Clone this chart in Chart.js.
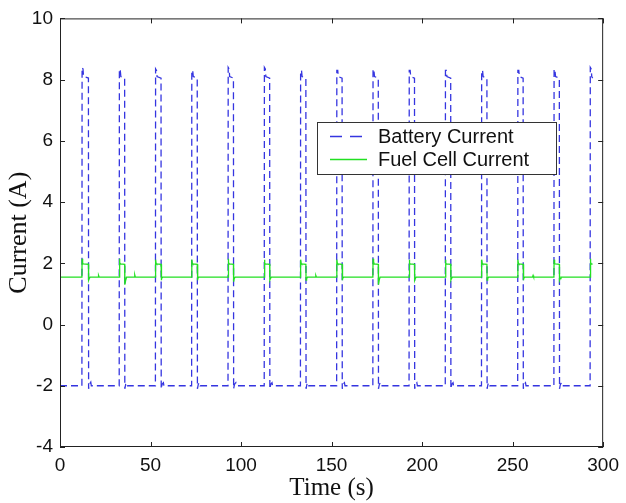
<!DOCTYPE html>
<html>
<head>
<meta charset="utf-8">
<title>Battery / Fuel Cell Current</title>
<script src="https://cdn.jsdelivr.net/npm/chart.js@4.4.1/dist/chart.umd.min.js"></script>
<style>
	html, body { margin: 0; padding: 0; background: #fff; }
	#canCurrent { display: block; }
</style>
</head>
<body>
<canvas id="canCurrent" width="626" height="503"></canvas>
<script>
'use strict'

//----------------------------------------------------------------------------------------------
// data : one line per load pulse (20 s period)

// Battery current [A]
const batteryTime = [
	0,
	12.1, 12.2, 12.7, 13.0, 15.7, 15.8, 16.3, 17.0, 17.3,
	32.7, 32.8, 33.3, 33.6, 35.7, 35.8, 36.3, 37.0, 37.3,
	52.7, 52.8, 53.3, 53.6, 55.8, 55.9, 56.4, 57.1, 57.4,
	72.7, 72.8, 73.3, 73.6, 75.8, 75.9, 76.4, 77.1, 77.4,
	92.8, 92.9, 93.4, 93.7, 95.8, 95.9, 96.4, 97.1, 97.4,
	112.8, 112.9, 113.4, 113.7, 115.8, 115.9, 116.4, 117.1, 117.4,
	132.8, 132.9, 133.4, 133.7, 135.8, 135.9, 136.4, 137.1, 137.4,
	152.8, 152.9, 153.4, 153.7, 155.8, 155.9, 156.4, 157.1, 157.4,
	172.8, 172.9, 173.4, 173.7, 175.8, 175.9, 176.4, 177.1, 177.4,
	192.8, 192.9, 193.4, 193.7, 195.8, 195.9, 196.4, 197.1, 197.4,
	212.8, 212.9, 213.4, 213.7, 215.8, 215.9, 216.4, 217.1, 217.4,
	232.8, 232.9, 233.4, 233.7, 235.8, 235.9, 236.4, 237.1, 237.4,
	252.8, 252.9, 253.4, 253.7, 255.8, 255.9, 256.4, 257.1, 257.4,
	272.8, 272.9, 273.4, 273.7, 275.8, 275.9, 276.4, 277.1, 277.4,
	292.8, 292.9, 293.4, 293.7, 294.2
];
const batteryCurrent = [
	-2.0,
	-2.0, 8.4, 8.35, 8.1, 8.05, -2.1, -1.95, -1.88, -2.0,
	-2.0, 8.35, 8.3, 8.1, 8.05, -2.1, -1.95, -1.9, -2.0,
	-2.0, 8.35, 8.3, 8.1, 8.05, -2.1, -1.95, -1.9, -2.0,
	-2.0, 8.3, 8.3, 8.1, 8.05, -2.1, -1.95, -1.9, -2.0,
	-2.0, 8.4, 8.35, 8.1, 8.05, -2.1, -1.95, -1.9, -2.0,
	-2.0, 8.4, 8.35, 8.1, 8.05, -2.1, -1.95, -1.9, -2.0,
	-2.0, 8.3, 8.3, 8.1, 8.05, -2.1, -1.95, -1.9, -2.0,
	-2.0, 8.3, 8.3, 8.1, 8.05, -2.1, -1.95, -1.9, -2.0,
	-2.0, 8.35, 8.3, 8.1, 8.05, -2.1, -1.95, -1.9, -2.0,
	-2.0, 8.3, 8.3, 8.1, 8.05, -2.1, -1.95, -1.9, -2.0,
	-2.0, 8.3, 8.3, 8.1, 8.05, -2.1, -1.95, -1.9, -2.0,
	-2.0, 8.3, 8.3, 8.1, 8.05, -2.1, -1.95, -1.9, -2.0,
	-2.0, 8.3, 8.3, 8.1, 8.05, -2.1, -1.95, -1.9, -2.0,
	-2.0, 8.35, 8.3, 8.1, 8.05, -2.1, -1.95, -1.9, -2.0,
	-2.0, 8.4, 8.35, 8.1, 8.05
];

// Fuel cell current [A]
const fuelTime = [
	0,
	12.1, 12.2, 12.5, 12.8, 15.7, 15.8, 16.1, 16.6, 21.0, 21.3, 21.6,
	32.7, 32.8, 33.1, 33.4, 35.7, 35.8, 36.3, 36.8, 41.0, 41.3, 41.6,
	52.7, 52.8, 53.1, 53.4, 55.8, 55.9, 56.2, 56.7,
	72.7, 72.8, 73.1, 73.4, 75.8, 75.9, 76.2, 76.7,
	92.8, 92.9, 93.2, 93.5, 95.8, 95.9, 96.2, 96.7,
	112.8, 112.9, 113.2, 113.5, 115.8, 115.9, 116.2, 116.7,
	132.8, 132.9, 133.2, 133.5, 135.8, 135.9, 136.2, 136.7, 141.0, 141.3, 141.6,
	152.8, 152.9, 153.2, 153.5, 155.8, 155.9, 156.2, 156.7,
	172.8, 172.9, 173.2, 173.5, 175.8, 175.9, 176.3, 176.8,
	192.8, 192.9, 193.2, 193.5, 195.8, 195.9, 196.2, 196.7,
	212.8, 212.9, 213.2, 213.5, 215.8, 215.9, 216.2, 216.7,
	232.8, 232.9, 233.2, 233.5, 235.8, 235.9, 236.2, 236.7,
	252.8, 252.9, 253.2, 253.5, 255.8, 255.9, 256.2, 256.7, 261.0, 261.3, 261.6,
	272.8, 272.9, 273.2, 273.5, 275.8, 275.9, 276.2, 276.7,
	292.8, 292.9, 293.2, 293.5, 294.2
];
const fuelCurrent = [
	1.55,
	1.55, 2.15, 2.02, 1.98, 1.97, 1.45, 1.5, 1.55, 1.55, 1.6, 1.55,
	1.55, 2.15, 2.02, 1.98, 1.97, 1.3, 1.45, 1.55, 1.55, 1.62, 1.55,
	1.55, 2.12, 2.0, 1.98, 1.97, 1.45, 1.5, 1.55,
	1.55, 2.12, 2.0, 1.98, 1.97, 1.45, 1.5, 1.55,
	1.55, 2.15, 2.02, 1.98, 1.97, 1.4, 1.5, 1.55,
	1.55, 2.12, 2.0, 1.98, 1.97, 1.45, 1.5, 1.55,
	1.55, 2.12, 2.0, 1.98, 1.97, 1.45, 1.5, 1.55, 1.55, 1.6, 1.55,
	1.55, 2.12, 2.0, 1.98, 1.97, 1.45, 1.5, 1.55,
	1.55, 2.15, 2.05, 1.98, 1.97, 1.3, 1.45, 1.55,
	1.55, 2.12, 2.0, 1.98, 1.97, 1.45, 1.5, 1.55,
	1.55, 2.12, 2.0, 1.98, 1.97, 1.45, 1.5, 1.55,
	1.55, 2.12, 2.0, 1.98, 1.97, 1.45, 1.5, 1.55,
	1.55, 2.12, 2.0, 1.98, 1.97, 1.45, 1.5, 1.55, 1.55, 1.6, 1.55,
	1.55, 2.12, 2.0, 1.98, 1.97, 1.45, 1.5, 1.55,
	1.55, 2.15, 2.02, 1.98, 1.97
];

const seriesLabels = ['Battery Current', 'Fuel Cell Current'];

// axes
const xMin = 0, xMax = 300, xStep = 50;
const yMin = -4, yMax = 10, yStep = 2;
const xTitle = 'Time (s)';
const yTitle = 'Current (A)';


//----------------------------------------------------------------------------------------------
// helpers

let toPoints = function (ts, vs) {
	return ts.map((t, i) => ({ x: t, y: vs[i] }));
};

const TICK_LEN = 5;

// box around the plot, inward ticks on all four sides, legend inside the plot
const boxPlugin = {
	id: 'boxPlugin',
	afterDatasetsDraw(chart) {
		const { ctx, chartArea: a, scales: { x, y } } = chart;
		ctx.save();
		ctx.strokeStyle = '#222';
		ctx.lineWidth = 1;
		ctx.strokeRect(a.left + 0.5, a.top + 0.5, a.right - a.left - 1, a.bottom - a.top - 1);

		ctx.beginPath();
		x.ticks.forEach((t) => {
			const px = Math.round(x.getPixelForValue(t.value)) + 0.5;
			ctx.moveTo(px, a.bottom); ctx.lineTo(px, a.bottom - TICK_LEN);
			ctx.moveTo(px, a.top); ctx.lineTo(px, a.top + TICK_LEN);
		});
		y.ticks.forEach((t) => {
			const py = Math.round(y.getPixelForValue(t.value)) + 0.5;
			ctx.moveTo(a.left, py); ctx.lineTo(a.left + TICK_LEN, py);
			ctx.moveTo(a.right, py); ctx.lineTo(a.right - TICK_LEN, py);
		});
		ctx.stroke();

		// legend
		const lx = 317, ly = 122, lw = 239, lh = 52;
		ctx.fillStyle = '#fff';
		ctx.fillRect(lx, ly, lw, lh);
		ctx.strokeStyle = '#333';
		ctx.strokeRect(lx + 0.5, ly + 0.5, lw, lh);

		ctx.font = '20px "Liberation Sans", Arial, sans-serif';
		ctx.textBaseline = 'middle';
		ctx.textAlign = 'left';
		chart.data.datasets.forEach((ds, i) => {
			const rowY = ly + 14 + i * 23;
			ctx.save();
			ctx.strokeStyle = ds.borderColor;
			ctx.lineWidth = ds.borderWidth;
			ctx.setLineDash(ds.borderDash ? [12, 8] : []);  // legend sample: longer dashes
			ctx.beginPath();
			ctx.moveTo(lx + 13, rowY + 0.5);
			ctx.lineTo(lx + 50, rowY + 0.5);
			ctx.stroke();
			ctx.restore();
			ctx.fillStyle = '#111';
			ctx.fillText(ds.label, lx + 61, rowY + 1);
		});
		ctx.restore();
	}
};


//----------------------------------------------------------------------------------------------
// chart

const ctxCurrent = document.getElementById('canCurrent').getContext('2d');

let myChartCurrent = new Chart(ctxCurrent, {
	type: 'line',
	data: {
		datasets: [
			{
				label: seriesLabels[0], data: toPoints(batteryTime, batteryCurrent),
				borderColor: '#3535e0', backgroundColor: '#3535e0', borderWidth: 1.3, borderDash: [7, 4],
				pointRadius: 0, tension: 0, fill: false, order: 1
			},
			{
				label: seriesLabels[1], data: toPoints(fuelTime, fuelCurrent),
				borderColor: '#22e022', backgroundColor: '#22e022', borderWidth: 1.3,
				pointRadius: 0, tension: 0, fill: false, order: 0
			}
		]
	},
	options: {
		responsive: false,
		animation: false,
		layout: { padding: { top: 16, right: 19, left: 0, bottom: 0 } },
		plugins: {
			legend: { display: false },
			tooltip: { enabled: false }
		},
		scales: {
			x: {
				type: 'linear',
				min: xMin, max: xMax,
				grid: { display: true, drawOnChartArea: false, drawTicks: false },
				border: { display: false },
				ticks: {
					stepSize: xStep, padding: 7, color: '#111',
					font: { family: '"Liberation Sans", Arial, sans-serif', size: 19 },
					maxRotation: 0
				},
				title: {
					display: true, text: xTitle, color: '#111',
					font: { family: '"Liberation Serif", "Times New Roman", serif', size: 25 },
					padding: { top: 0, bottom: 0 }
				},
				afterFit: (scale) => { scale.height = 56; }
			},
			y: {
				type: 'linear',
				min: yMin, max: yMax,
				grid: { display: true, drawOnChartArea: false, drawTicks: false },
				border: { display: false },
				ticks: {
					stepSize: yStep, padding: 7, color: '#111',
					font: { family: '"Liberation Sans", Arial, sans-serif', size: 19 }
				},
				title: {
					display: true, text: yTitle, color: '#111',
					font: { family: '"Liberation Serif", "Times New Roman", serif', size: 26 },
					padding: { top: 4, bottom: 0 }
				},
				afterFit: (scale) => { scale.width = 60; }
			}
		}
	},
	plugins: [boxPlugin]
});
</script>
</body>
</html>
